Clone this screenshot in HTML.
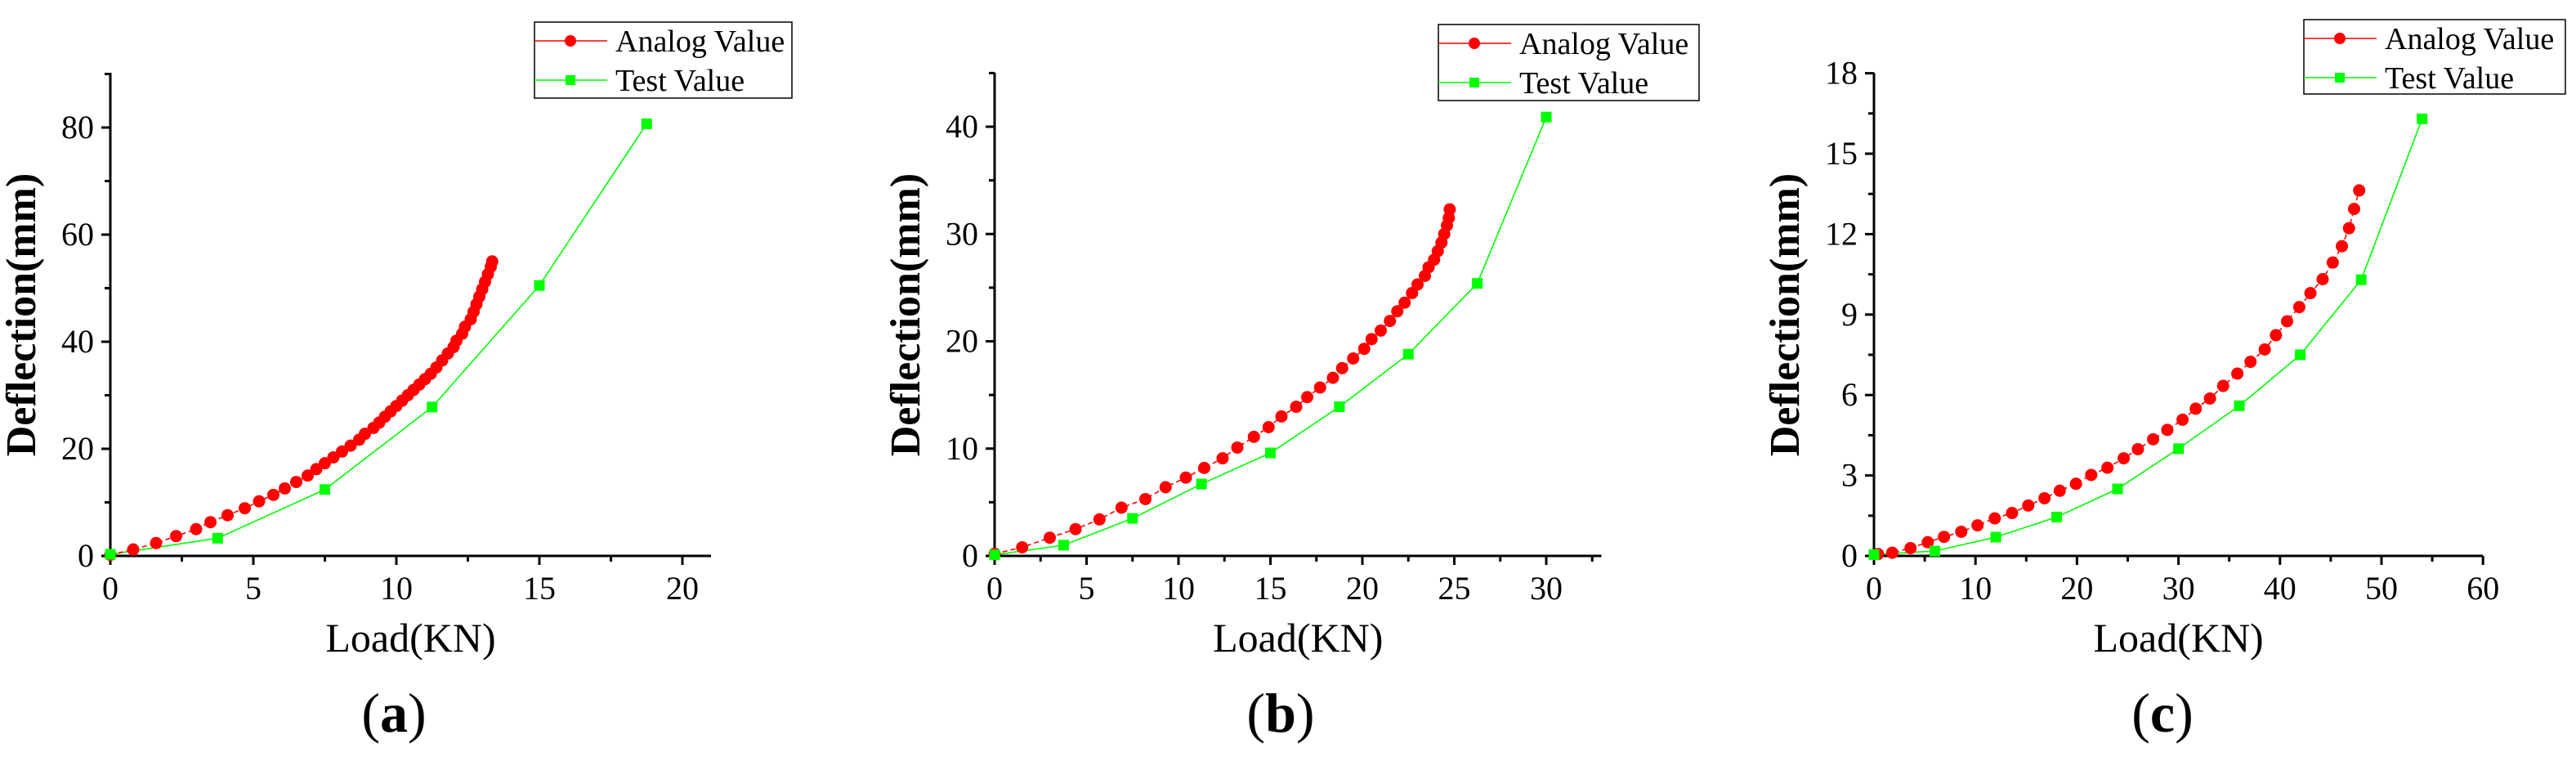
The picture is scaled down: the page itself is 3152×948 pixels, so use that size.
<!DOCTYPE html>
<html><head><meta charset="utf-8"><style>
html,body{margin:0;padding:0;background:#fff;}
svg{display:block;}
svg text{font-family:'Liberation Serif','Times New Roman',serif;fill:#000;}
</style></head><body>
<svg id="fig" width="3152" height="948" xmlns="http://www.w3.org/2000/svg" font-family="Liberation Serif, serif"></svg>
<script>
// Panel (a) data
const aAnalogX=[0,0.8,1.6,2.3,3.0,3.5,4.1,4.7,5.2,5.7,6.1,6.5,6.9,7.2,7.5,7.8,8.1,8.4,8.7,8.9,9.2,9.4,9.6,9.8,10.0,10.2,10.4,10.6,10.8,11.0,11.2,11.4,11.6,11.8,12.0,12.1,12.3,12.4,12.6,12.7,12.8,12.9,13.0,13.1,13.2,13.3,13.35];
const aAnalogY=[0.2,1.2,2.4,3.7,5.0,6.3,7.6,8.9,10.2,11.4,12.6,13.8,15.0,16.2,17.3,18.4,19.5,20.6,21.7,22.8,23.9,24.9,26.0,27.0,28.0,29.0,30.0,31.0,32.0,33.0,34.0,35.2,36.5,37.8,39.0,40.2,41.5,42.8,44.2,45.6,47.0,48.4,49.8,51.2,52.6,54.0,55.0];
const aTestX=[0,3.75,7.5,11.25,15,18.75];
const aTestY=[0.3,3.3,12.4,27.8,50.5,80.7];
const aXTicks=[0,5,10,15,20];
const aYTicks=[0,20,40,60,80];
// Panel (b) data
const bAnalogX=[0,1.5,3,4.4,5.7,6.9,8.2,9.3,10.4,11.4,12.4,13.2,14.1,14.9,15.6,16.4,17.0,17.7,18.4,18.9,19.5,20.1,20.5,21.0,21.5,21.9,22.3,22.7,23.0,23.4,23.6,23.9,24.1,24.3,24.45,24.6,24.7,24.75];
const bAnalogY=[0.2,0.8,1.7,2.5,3.4,4.5,5.3,6.4,7.3,8.2,9.1,10.1,11.1,12.0,13.0,13.9,14.8,15.7,16.6,17.5,18.4,19.3,20.2,21.0,21.9,22.8,23.6,24.5,25.3,26.1,26.9,27.6,28.4,29.2,30.0,30.8,31.5,32.3];
const bTestX=[0,3.75,7.5,11.25,15,18.75,22.5,26.25,30];
const bTestY=[0.1,1.0,3.5,6.7,9.6,13.9,18.8,25.4,40.9];
const bXTicks=[0,5,10,15,20,25,30];
const bYTicks=[0,10,20,30,40];
// Panel (c) data
const cAnalogX=[0.4,1.8,3.6,5.3,6.9,8.6,10.2,11.9,13.6,15.2,16.8,18.3,19.9,21.4,23.0,24.6,26.0,27.5,28.9,30.4,31.7,33.1,34.4,35.8,37.1,38.5,39.6,40.7,41.9,43.0,44.2,45.2,46.1,46.8,47.3,47.8];
const cAnalogY=[0.07,0.12,0.29,0.51,0.71,0.9,1.14,1.4,1.6,1.88,2.15,2.43,2.69,3.02,3.29,3.64,3.98,4.35,4.7,5.08,5.49,5.87,6.34,6.8,7.24,7.7,8.23,8.75,9.28,9.8,10.32,10.94,11.55,12.22,12.94,13.63];
const cTestX=[0,6,12,18,24,30,36,42,48,54];
const cTestY=[0.05,0.18,0.7,1.45,2.5,4.0,5.6,7.5,10.3,16.3];
const cXTicks=[0,10,20,30,40,50,60];
const cYTicks=[0,3,6,9,12,15,18];

const NS="http://www.w3.org/2000/svg";
const svg=document.getElementById('fig');
const FF='Liberation Serif, Times New Roman, serif';
function mk(tag,attrs,parent){const e=document.createElementNS(NS,tag);for(const k in attrs)e.setAttribute(k,attrs[k]);if(tag==='text')e.setAttribute('font-family',FF);(parent||svg).appendChild(e);return e;}

function panel(cfg){
  const g=mk('g',{});
  
  
  const x0=cfg.x0,y0=680,yTop=89;
  const sx=v=>x0+v*cfg.pxX, sy=v=>y0-v*cfg.pxY;
  const xEnd=sx(cfg.xMax);
  cfg.xTicks.forEach(t=>{
    const tk=mk('line',{x1:sx(t),x2:sx(t),y1:y0,y2:y0+11,stroke:'#000','stroke-width':3},g);
    
    
    const lb=mk('text',{x:sx(t),y:y0+53,'font-size':40,'text-anchor':'middle'},g);lb.textContent=t;
    
    
    const m=t+cfg.xMinor; if(m<=cfg.xMax){mk('line',{x1:sx(m),x2:sx(m),y1:y0,y2:y0+7,stroke:'#000','stroke-width':3},g);}
  });
  cfg.yTicks.forEach(t=>{
    const tk=mk('line',{x1:x0-11,x2:x0,y1:sy(t),y2:sy(t),stroke:'#000','stroke-width':3},g);
    
    
    const lb=mk('text',{x:x0-20,y:sy(t)+13,'font-size':40,'text-anchor':'end'},g);lb.textContent=t;
    
    
    const m=t+cfg.yMinor; if(sy(m)>=yTop){mk('line',{x1:x0-7,x2:x0,y1:sy(m),y2:sy(m),stroke:'#000','stroke-width':3},g);}
  });
  const xa=mk('line',{x1:x0-1.5,x2:xEnd,y1:y0,y2:y0,stroke:'#000','stroke-width':3},g);
  
  
  const ya=mk('line',{x1:x0,x2:x0,y1:yTop,y2:y0+1.5,stroke:'#000','stroke-width':3},g);
  
  
  const xt=mk('text',{x:(x0+xEnd)/2,y:797,'font-size':50,'text-anchor':'middle'},g);xt.textContent='Load(KN)';
  
  
  const ytx=x0-cfg.yTitleOff;
  const yt=mk('text',{x:ytx,y:385,'font-size':52,'font-weight':'bold','text-anchor':'middle',transform:`rotate(-90 ${ytx} 385)`},g);yt.textContent='Deflection(mm)';
  
  
  const cap=mk('text',{x:cfg.capX,y:895,'font-size':68,'text-anchor':'middle'},g);
  cap.innerHTML='(<tspan font-weight="bold">'+cfg.id+'</tspan>)';
  
  
  const tp=cfg.tx.map((v,i)=>sx(v)+','+sy(cfg.ty[i])).join(' ');
  const tl=mk('polyline',{points:tp,fill:'none',stroke:'#00ff00','stroke-width':1.6},g);
  
  
  const ap=cfg.ax.map((v,i)=>sx(v)+','+sy(cfg.ay[i])).join(' ');
  const al=mk('polyline',{points:ap,fill:'none',stroke:'#ff0000','stroke-width':1.6,'stroke-dasharray':'6,4'},g);
  
  
  cfg.ax.forEach((v,i)=>{
    const c=mk('circle',{cx:sx(v),cy:sy(cfg.ay[i]),r:7.5,fill:'#ff0000'},g);
    
    
  });
  cfg.tx.forEach((v,i)=>{
    const r=mk('rect',{x:sx(v)-6.5,y:sy(cfg.ty[i])-6.5,width:13,height:13,fill:'#00ff00'},g);
    
    
  });
  const L=cfg.leg;
  const lg=mk('g',{},g);
  
  
  mk('rect',{x:L[0],y:L[1],width:L[2]-L[0],height:L[3]-L[1],fill:'#fff',stroke:'#000','stroke-width':1.5},lg);
  const r1=L[1]+23,r2=L[1]+71;
  mk('line',{x1:L[0],x2:L[0]+89,y1:r1,y2:r1,stroke:'#ff0000','stroke-width':1.5},lg);
  mk('circle',{cx:L[0]+44,cy:r1,r:7,fill:'#ff0000'},lg);
  mk('line',{x1:L[0],x2:L[0]+89,y1:r2,y2:r2,stroke:'#00ff00','stroke-width':1.5},lg);
  mk('rect',{x:L[0]+38,y:r2-6,width:12,height:12,fill:'#00ff00'},lg);
  const t1=mk('text',{x:L[0]+99,y:r1+13,'font-size':38},lg);t1.textContent='Analog Value';
  
  
  const t2=mk('text',{x:L[0]+99,y:r2+13,'font-size':38},lg);t2.textContent='Test Value';
  
  
}

panel({id:'a',x0:135,pxX:35,pxY:6.55,xMax:21,xTicks:aXTicks,yTicks:aYTicks,xMinor:2.5,yMinor:10,
  ax:aAnalogX,ay:aAnalogY,tx:aTestX,ty:aTestY,leg:[654,27,969,120],capX:482,yTitleOff:92});
panel({id:'b',x0:1217,pxX:22.5,pxY:13.125,xMax:33,xTicks:bXTicks,yTicks:bYTicks,xMinor:2.5,yMinor:5,
  ax:bAnalogX,ay:bAnalogY,tx:bTestX,ty:bTestY,leg:[1760,30,2079,123],capX:1567,yTitleOff:92});
panel({id:'c',x0:2293,pxX:12.42,pxY:32.8,xMax:60,xTicks:cXTicks,yTicks:cYTicks,xMinor:5,yMinor:1.5,
  ax:cAnalogX,ay:cAnalogY,tx:cTestX,ty:cTestY,leg:[2819,24,3139,115],capX:2646,yTitleOff:92});
</script>
</body></html>
